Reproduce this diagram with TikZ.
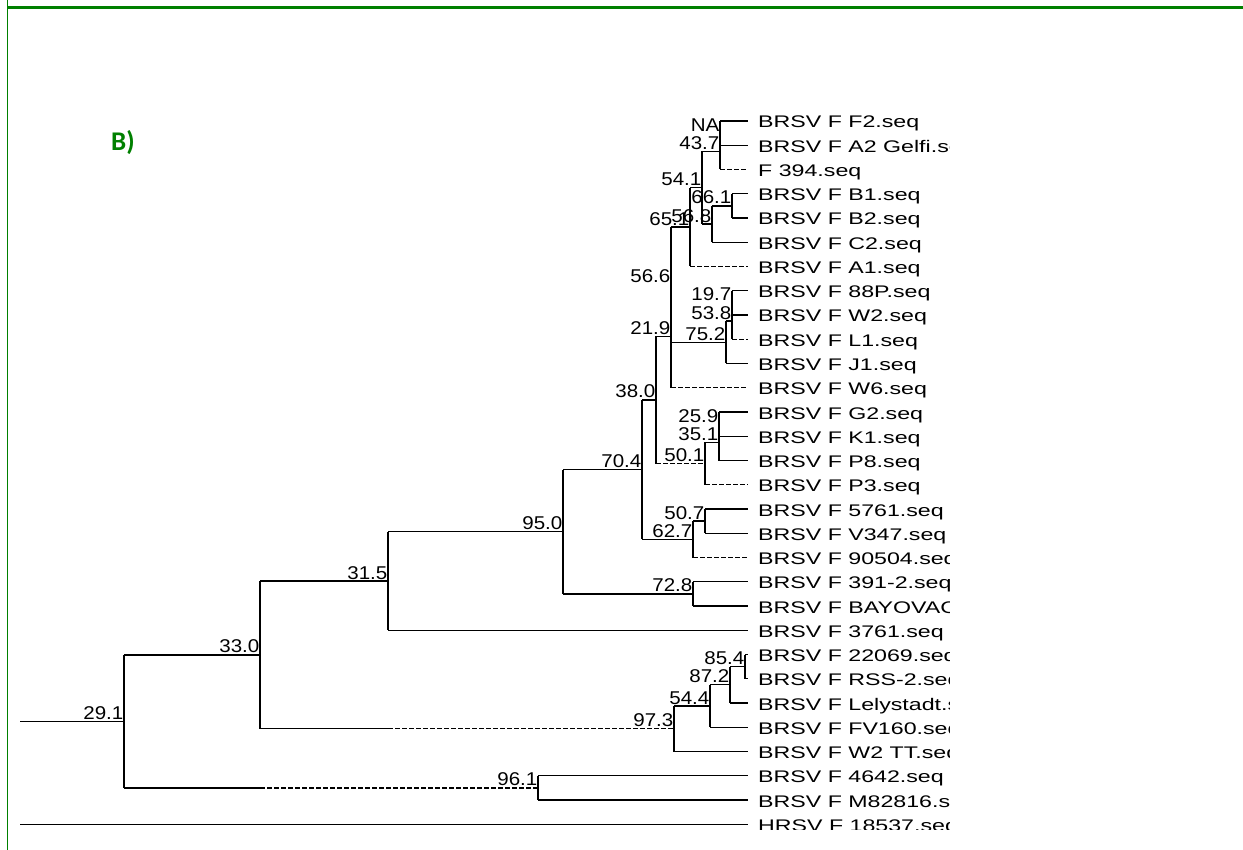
\documentclass[tikz,border=0pt]{standalone}
\usepackage{fontspec}
\setmainfont{Liberation Sans}
\newfontfamily\calibfont{Carlito}
\usepackage{graphicx}
\definecolor{frameg}{RGB}{0,128,0}
\newcommand\ry[1]{121+24.25*#1}
\newcommand\tiptext[1]{\scalebox{1.38}[1]{#1}}
\newcommand\bstext[1]{\scalebox{1.11}[1]{#1}}
\newcommand\cladev[3]{\draw[br] (#1 |- #2) -- (#1 |- #3);}
\newcommand\edge[2]{\draw[br] (#1 |- #2) -- (#2);}
\newcommand\dedge[2]{\draw[dsh] (#1 |- #2) -- (#2);}
\begin{document}
\begin{tikzpicture}[x=1pt,y=-1pt,
  br/.style={line width=1.3pt, black},
  dsh/.style={br, dash pattern=on 4.5pt off 2.5pt},
  tiplab/.style={anchor=base west, inner sep=0pt, font=\fontsize{16.8}{18}\selectfont, text=black},
  bslab/.style={anchor=base east, inner sep=0pt, font=\fontsize{18.5}{20}\selectfont, text=black}]
\useasboundingbox (0,0) rectangle (1243,850);
% frame
\draw[frameg, line width=3pt] (7,7.5) -- (1243,7.5);
\draw[frameg, line width=1.6pt] (7.5,0) -- (7.5,850);
\node[anchor=base west, inner sep=0pt, text=frameg, font=\calibfont\bfseries\fontsize{27}{29}\selectfont] (panel) at (111,151) {B)};
\begin{scope}
\clip (0,0) rectangle (949,829);
% tips
\foreach \i in {0,...,29} { \coordinate (t\i) at (748,{\ry{\i}}); }
% internal nodes
\coordinate (nNA) at (720,133.125);
\coordinate (n437) at (720,151.31);
\coordinate (n661) at (732,205.875);
\coordinate (n568) at (712,224.06);
\coordinate (n541) at (702,187.69);
\coordinate (n651) at (690,227.09);
\coordinate (n197) at (732,302.875);
\coordinate (n538) at (732,321.06);
\coordinate (n752) at (726,342.28);
\coordinate (n566) at (671,284.69);
\coordinate (n219) at (671,336.22);
\coordinate (n259) at (719,424.125);
\coordinate (n351) at (719,442.31);
\coordinate (n501) at (705,463.53);
\coordinate (n380) at (656,399.88);
\coordinate (n507) at (705,521.125);
\coordinate (n627) at (693,539.31);
\coordinate (n704) at (642,469.6);
\coordinate (n728) at (693,593.875);
\coordinate (n950) at (563,531.74);
\coordinate (n315) at (388,581);
\coordinate (n854) at (745,666.625);
\coordinate (n872) at (730,684.81);
\coordinate (n544) at (710,706.03);
\coordinate (n973) at (674,728.77);
\coordinate (n330) at (260,654.88);
\coordinate (n961) at (538,787.875);
\coordinate (n291) at (124,721.38);
\coordinate (root) at (20,721.38);
\coordinate (hroot) at (20,{\ry{29}});
\coordinate (k973) at (388,728.77);
\coordinate (k961) at (260,787.875);
% verticals
\cladev{nNA}{t0}{t1}
\cladev{n437}{nNA}{t2}
\cladev{n661}{t3}{t4}
\cladev{n568}{n661}{t5}
\cladev{n541}{n437}{n568}
\cladev{n651}{n541}{t6}
\cladev{n197}{t7}{t8}
\cladev{n538}{n197}{t9}
\cladev{n752}{n538}{t10}
\cladev{n566}{n651}{n752}
\cladev{n219}{n566}{t11}
\cladev{n259}{t12}{t13}
\cladev{n351}{n259}{t14}
\cladev{n501}{n351}{t15}
\cladev{n380}{n219}{n501}
\cladev{n507}{t16}{t17}
\cladev{n627}{n507}{t18}
\cladev{n704}{n380}{n627}
\cladev{n728}{t19}{t20}
\cladev{n950}{n704}{n728}
\cladev{n315}{n950}{t21}
\cladev{n854}{t22}{t23}
\cladev{n872}{n854}{t24}
\cladev{n544}{n872}{t25}
\cladev{n973}{n544}{t26}
\cladev{n330}{n315}{n973}
\cladev{n961}{t27}{t28}
\cladev{n291}{n330}{n961}
% horizontals
\edge{nNA}{t0} \edge{nNA}{t1} \dedge{n437}{t2}
\edge{n661}{t3} \edge{n661}{t4}
\edge{n568}{n661} \edge{n568}{t5}
\edge{n541}{n437} \edge{n541}{n568}
\edge{n651}{n541} \dedge{n651}{t6}
\edge{n197}{t7} \edge{n197}{t8}
\dedge{n538}{t9}
\edge{n752}{n538} \edge{n752}{t10}
\edge{n566}{n651} \edge{n566}{n752}
\dedge{n219}{t11}
\edge{n259}{t12} \edge{n259}{t13}
\edge{n351}{t14}
\edge{n501}{n351} \dedge{n501}{t15}
\edge{n380}{n219} \dedge{n380}{n501}
\edge{n507}{t16} \edge{n507}{t17}
\edge{n627}{n507} \dedge{n627}{t18}
\edge{n704}{n380} \edge{n704}{n627}
\edge{n728}{t19} \edge{n728}{t20}
\edge{n950}{n704} \edge{n950}{n728}
\edge{n315}{n950} \edge{n315}{t21}
\edge{n854}{t22} \edge{n854}{t23}
\edge{n872}{n854} \edge{n872}{t24}
\edge{n544}{n872} \edge{n544}{t25}
\edge{n973}{n544} \edge{n973}{t26}
\edge{n330}{n315}
\draw[br] (n330 |- n973) -- (k973);
\draw[dsh] (k973) -- (n973);
\edge{n961}{t27} \edge{n961}{t28}
\edge{n291}{n330}
\draw[br] (n291 |- n961) -- (k961);
\draw[dsh] (k961) -- (n961);
\draw[br] (root) -- (n291);
\draw[br] (hroot) -- (t29);
% bootstrap labels
\foreach \n/\v in {nNA/NA, n437/43.7, n541/54.1, n651/65.1, n661/66.1, n568/56.8,
  n566/56.6, n197/19.7, n538/53.8, n219/21.9, n752/75.2, n380/38.0, n259/25.9,
  n351/35.1, n501/50.1, n704/70.4, n507/50.7, n627/62.7, n950/95.0, n728/72.8,
  n315/31.5, n330/33.0, n854/85.4, n872/87.2, n544/54.4, n973/97.3, n291/29.1, n961/96.1}
  { \node[bslab] (b\n) at ([xshift=-0.5pt,yshift=2pt]\n) {\bstext{\v}}; }
% tip labels
\foreach \i/\s in {0/BRSV F F2.seq, 1/BRSV F A2 Gelfi.seq, 2/F 394.seq, 3/BRSV F B1.seq,
  4/BRSV F B2.seq, 5/BRSV F C2.seq, 6/BRSV F A1.seq, 7/BRSV F 88P.seq, 8/BRSV F W2.seq,
  9/BRSV F L1.seq, 10/BRSV F J1.seq, 11/BRSV F W6.seq, 12/BRSV F G2.seq, 13/BRSV F K1.seq,
  14/BRSV F P8.seq, 15/BRSV F P3.seq, 16/BRSV F 5761.seq, 17/BRSV F V347.seq,
  18/BRSV F 90504.seq, 19/BRSV F 391-2.seq, 20/BRSV F BAYOVAC.seq, 21/BRSV F 3761.seq,
  22/BRSV F 22069.seq, 23/BRSV F RSS-2.seq, 24/BRSV F Lelystadt.seq, 25/BRSV F FV160.seq,
  26/BRSV F W2 TT.seq, 27/BRSV F 4642.seq, 28/BRSV F M82816.seq, 29/HRSV F 18537.seq}
  { \node[tiplab] (L\i) at ([xshift=10pt,yshift=-7pt]t\i) {\tiptext{\s}}; }
\end{scope}
\end{tikzpicture}
\end{document}
